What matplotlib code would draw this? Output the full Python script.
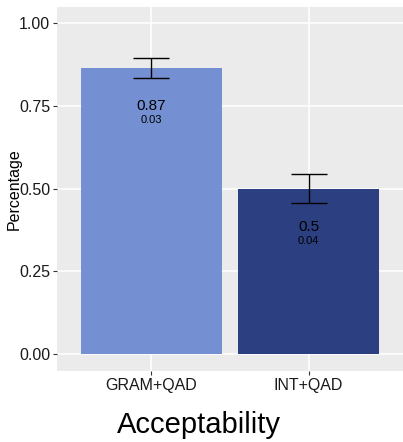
import matplotlib.pyplot as plt
import numpy as np

plt.rcParams['font.family'] = ['Liberation Sans', 'DejaVu Sans']

groups = ['GRAM+QAD', 'INT+QAD']
means = [0.864, 0.5]
errors = [0.03, 0.045]
mean_labels = ['0.87', '0.5']
err_labels = ['0.03', '0.04']
colours = ['#7490D2', '#2C3F81']

fig = plt.figure(figsize=(4.03, 4.42), dpi=100)
ax = fig.add_axes([57 / 403, 1 - 371 / 442, 346 / 403, 364 / 442])

x = np.arange(1, len(groups) + 1)
ax.set_facecolor('#EBEBEB')
ax.set_axisbelow(True)
ax.grid(True, color='white', linewidth=1.1)

ax.bar(x, means, width=0.9, color=colours, zorder=2)
ax.errorbar(x, means, yerr=errors, fmt='none', ecolor='black',
            elinewidth=1.0, capsize=13, capthick=1.0, zorder=3)

for xi, m, ml, el in zip(x, means, mean_labels, err_labels):
    ax.text(xi, m - 0.115, ml, ha='center', va='center', fontsize=11, color='black', zorder=4)
    ax.text(xi, m - 0.157, el, ha='center', va='center', fontsize=8, color='black', zorder=4)

ax.set_xlim(0.4, 2.6)
ax.set_ylim(-0.051, 1.048)
ax.set_xticks(x)
ax.set_xticklabels(groups)
ax.set_yticks([0, 0.25, 0.5, 0.75, 1.0])
ax.set_yticklabels(['0.00', '0.25', '0.50', '0.75', '1.00'])
ax.tick_params(axis='both', length=3, width=0.8, color='#333333',
               labelsize=11.5, labelcolor='#1a1a1a', pad=2)

for s in ax.spines.values():
    s.set_visible(False)

ax.set_ylabel('Percentage', fontsize=11.5)
ax.yaxis.set_label_coords(-35 / 346, 0.5)

fig.text(199 / 403, 1 - 425 / 442, 'Acceptability', fontsize=21,
         ha='center', va='center')

fig.savefig('out.png', dpi=100)
